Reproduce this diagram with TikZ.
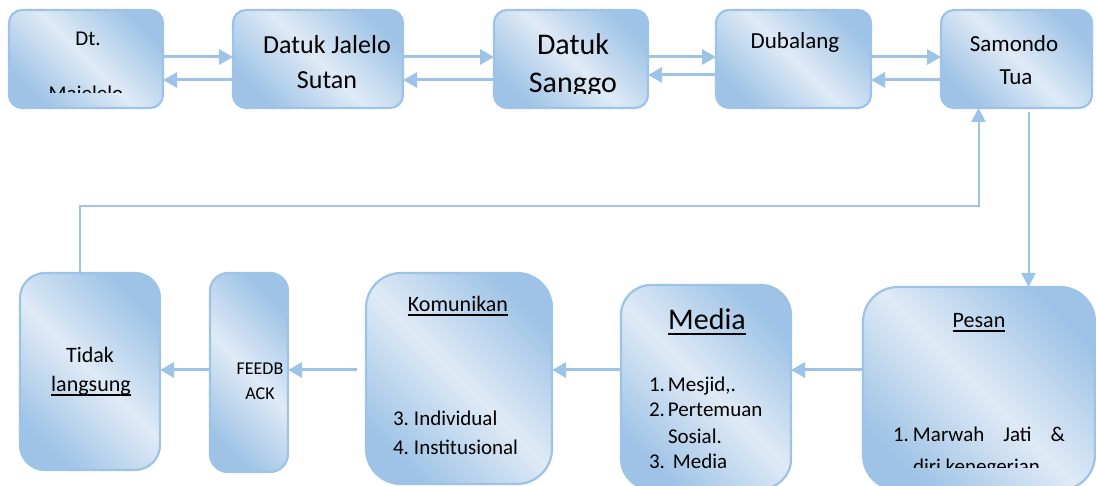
\documentclass[tikz,border=0pt]{standalone}
\usepackage{fontspec}
\setmainfont{Carlito}
\usetikzlibrary{arrows.meta, positioning, calc}

\definecolor{edgeblue}{RGB}{157,195,230}
\definecolor{boxlight}{RGB}{223,234,246}
\definecolor{boxdark}{RGB}{158,195,230}

% underline drawn a bit heavier than \underline
\newcommand{\undl}[1]{\setbox0=\hbox{#1}\rlap{\rule[-0.16em]{\wd0}{0.06em}}\box0}

\begin{document}
\begin{tikzpicture}[
  x=1pt, y=-1pt,
  every node/.style={inner sep=0pt, outer sep=0pt},
  box/.style={rectangle, rounded corners=#1, draw=edgeblue, line width=2.2pt,
    top color=boxdark, bottom color=boxdark, middle color=boxlight, shading angle=-45},
  topbox/.style={box=13pt, minimum height=98pt},
  txt/.style={anchor=base, font=\fontsize{#1}{#1}\selectfont},
  item/.style={anchor=base west, font=\fontsize{21}{21}\selectfont},
  arr/.style={-{Triangle[length=14pt, width=15pt]}, line width=3pt, draw=edgeblue},
  link/.style={-{Triangle[length=14pt, width=14pt]}, line width=2pt, draw=edgeblue}
]
\useasboundingbox (0,0) rectangle (1096,486);

% ---- TOP ROW ----
\node[topbox, minimum width=154pt] (dt) at (86,59) {};
\node[topbox, minimum width=170pt, right=70pt of dt] (jal) {};
\node[topbox, minimum width=154pt, right=91pt of jal] (sang) {};
\node[topbox, minimum width=155pt, right=68pt of sang] (dub) {};
\node[topbox, minimum width=151pt, right=70pt of dub] (sam) {};

\node[txt=21] (dt-a) at (88,46) {Dt.};
\begin{scope}
  \clip (0,0) rectangle (1096,93);
  \node[txt=21] (dt-b) at (86,101) {Majelelo};
\end{scope}
\node[txt=26] (jal-a) at (327,54) {Datuk Jalelo};
\node[txt=26] (jal-b) at (327,89) {Sutan};
\node[txt=30] (sang-a) at (573,55) {Datuk};
\begin{scope}
  \clip (0,0) rectangle (1096,94);
  \node[txt=30] (sang-b) at (573,93) {Sanggo};
\end{scope}
\node[txt=23] (dub-a) at (795,49) {Dubalang};
\node[txt=23] (sam-a) at (1014,52) {Samondo};
\node[txt=23] (sam-b) at (1016,85) {Tua};

% two-way links along the top
\coordinate (hi) at (0,57);
\coordinate (lo) at (0,80);
\coordinate (lo3) at (0,75);
\draw[arr] (dt.east |- hi) -- (jal.west |- hi);
\draw[arr] (jal.west |- lo) -- (dt.east |- lo);
\draw[arr] (jal.east |- hi) -- (sang.west |- hi);
\draw[arr] (sang.west |- lo) -- (jal.east |- lo);
\draw[arr] (sang.east |- hi) -- (dub.west |- hi);
\draw[arr] (dub.west |- lo3) -- (sang.east |- lo3);
\draw[arr] (dub.east |- hi) -- (sam.west |- hi);
\draw[arr] (sam.west |- lo) -- (dub.east |- lo);

% ---- BOTTOM ROW ----
\node[box=25pt, minimum width=140pt, minimum height=197pt] (tid) at (90,371.5) {};
\node[box=18pt, minimum width=78pt, minimum height=199pt] (fb) at (249,372.5) {};
\node[box=35pt, minimum width=186pt, minimum height=211pt] (kom) at (459,378.5) {};
\node[box=30pt, minimum width=170pt, minimum height=204pt] (med) at (706,387) {};
\node[box=35pt, minimum width=232pt, minimum height=203pt] (pes) at (979,388.5) {};

\node[txt=22] (tid-a) at (90,363) {Tidak};
\node[txt=22] (tid-b) at (91,392) {\undl{langsung}};

\node[txt=18] (fb-a) at (260,375) {FEEDB};
\node[txt=18] (fb-b) at (260,400) {ACK};

\node[txt=22] (kom-a) at (458,312) {\undl{Komunikan}};
\node[item] (kom-1) at (393,426) {\makebox[21pt][l]{3.}Individual};
\node[item] (kom-2) at (393,455) {\makebox[21pt][l]{4.}Institusional};

\node[txt=30] (med-a) at (707,330) {\undl{Media}};
\node[item] (med-1) at (649,392) {\makebox[19pt][l]{1.}Mesjid,.};
\node[item] (med-2) at (649,417) {\makebox[19pt][l]{2.}Pertemuan};
\node[item] (med-3) at (668,443) {Sosial.};
\node[item] (med-4) at (649,468) {\makebox[24pt][l]{3.}Media};

\node[txt=22] (pes-a) at (979,328) {\undl{Pesan}};
\node[item] (pes-1) at (893,442) {\makebox[20pt][l]{1.}\makebox[152pt][s]{Marwah\hfill Jati\hfill\&}};
\begin{scope}
  \clip (0,0) rectangle (1096,467);
  \node[item] (pes-2) at (913,473) {diri kenegerian};
\end{scope}

% links along the bottom, right to left
\coordinate (row) at (0,370);
\coordinate (kom-in) at ([xshift=-9pt]kom.west);
\draw[arr] (pes.west |- row) -- (med.east |- row);
\draw[arr] (med.west |- row) -- (kom.east |- row);
\draw[arr] (kom-in |- row) -- (fb.east |- row);
\draw[arr] (fb.west |- row) -- (tid.east |- row);

% ---- FEEDBACK LOOP ----
\coordinate (loop) at (0,206);
\coordinate (tid-up) at ([xshift=-10pt]tid.north);
\coordinate (sam-in) at ([xshift=-38pt]sam.south);
\coordinate (sam-out) at ([xshift=12pt, yshift=-4pt]sam.south);
\draw[link] (tid-up) -- (tid-up |- loop) -| (sam-in);
\draw[link] (sam-out) -- (sam-out |- pes.north);
\end{tikzpicture}
\end{document}
